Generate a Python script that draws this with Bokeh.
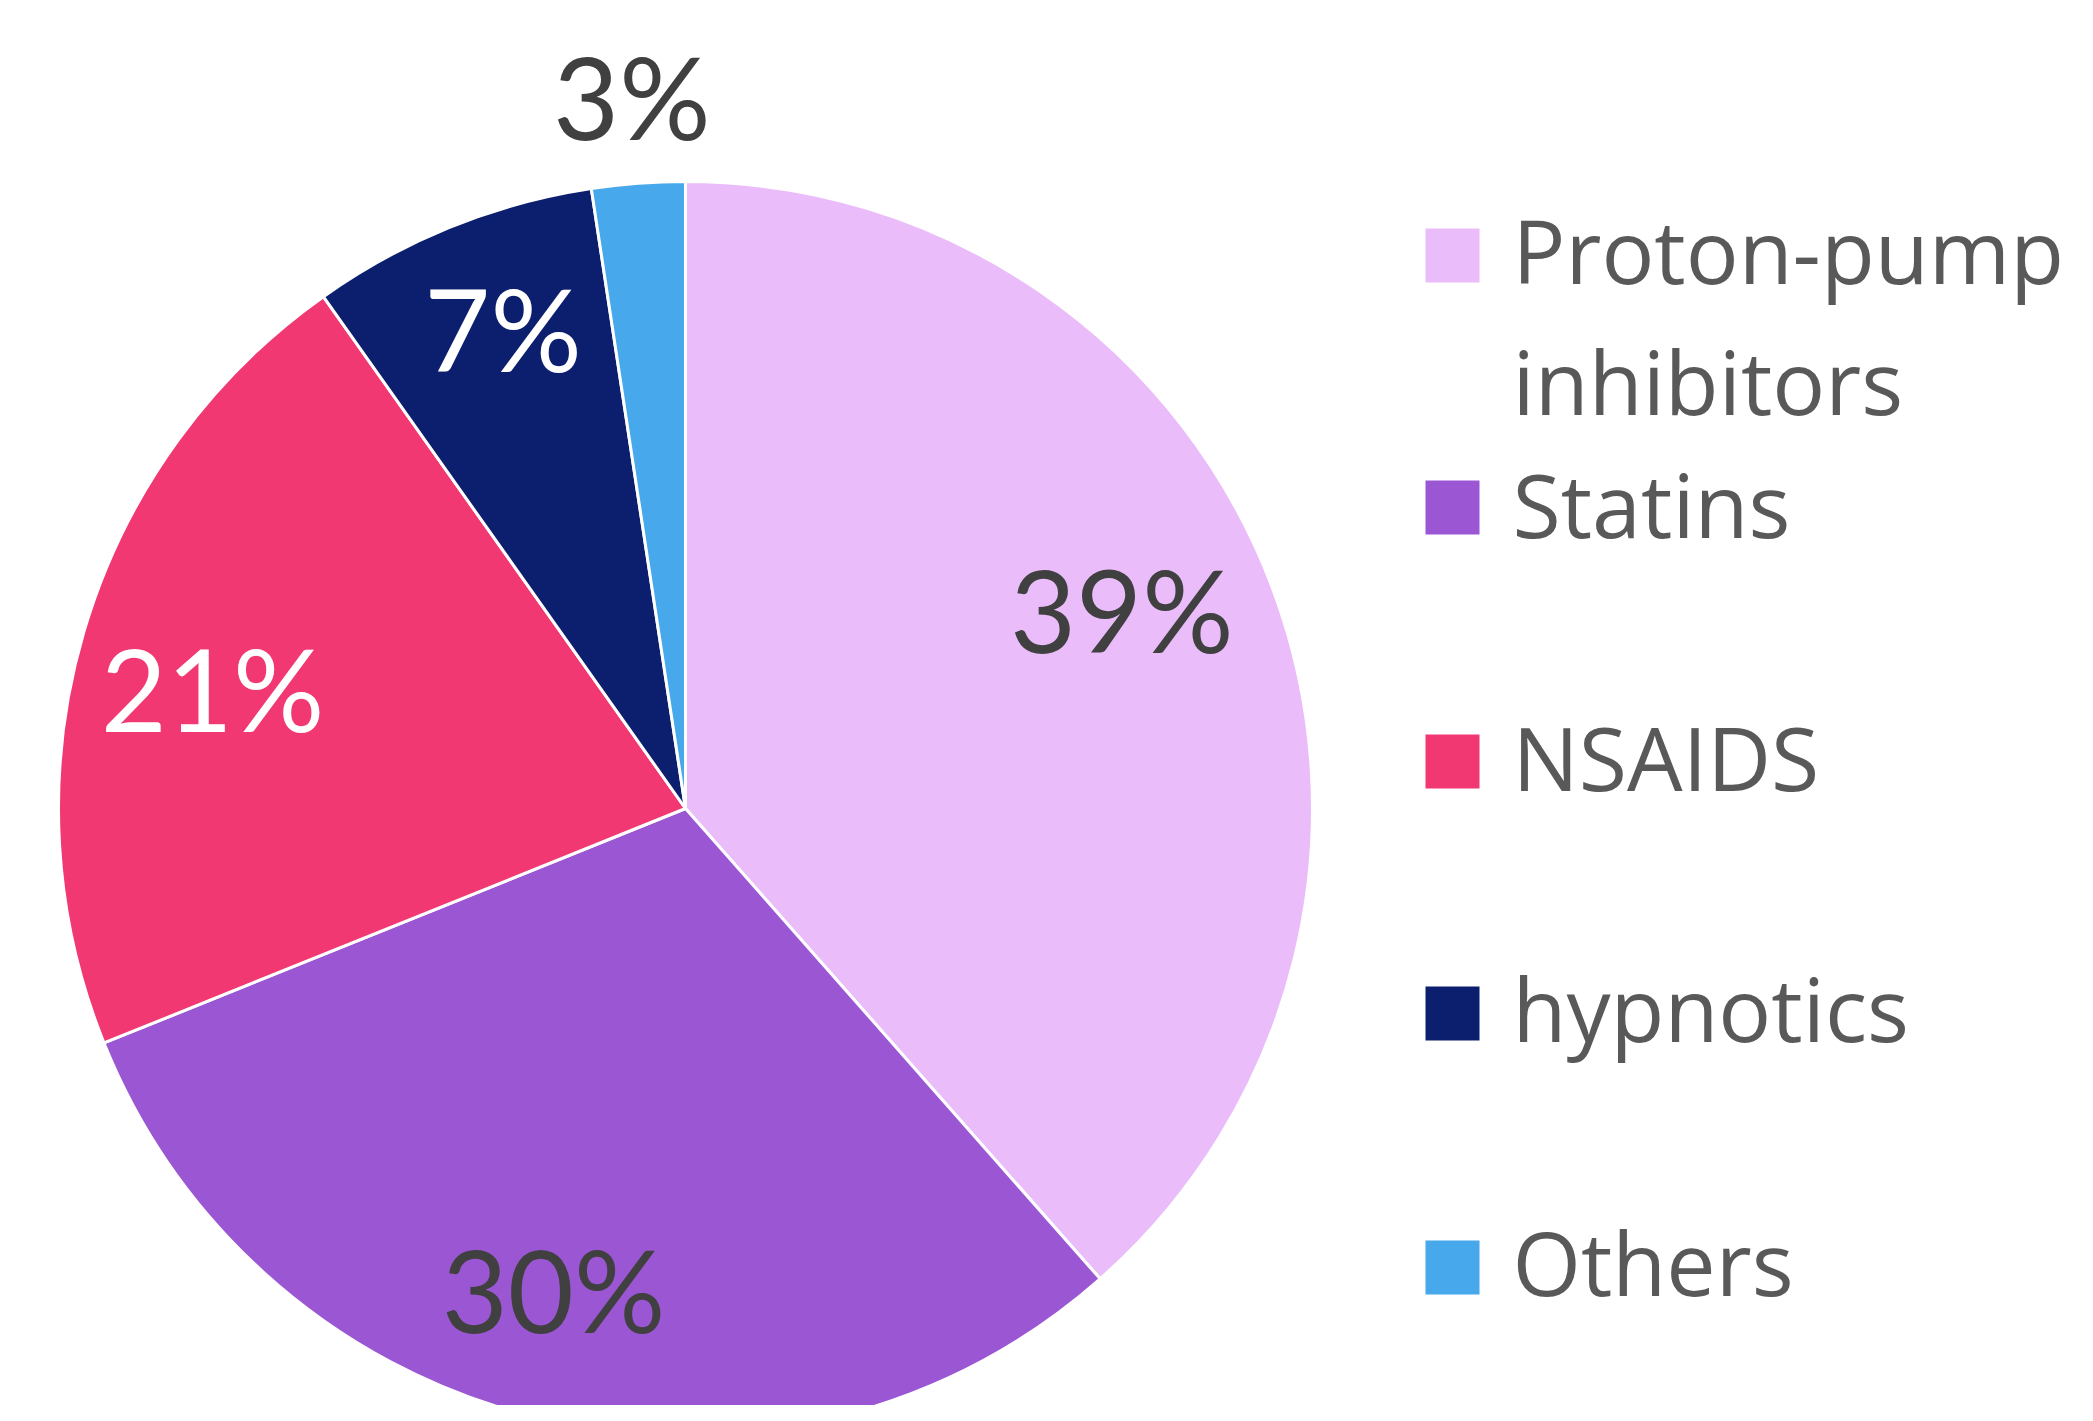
import math
from bokeh.plotting import figure
from bokeh.models import ColumnDataSource, Range1d
from bokeh.core.properties import value
from bokeh.embed import file_html
from bokeh.resources import INLINE

# ---- data ----
categories = ["Proton-pump inhibitors", "Statins", "NSAIDS", "hypnotics", "Others"]
shares = [38.5, 30.4, 21.3, 7.4, 2.4]
pct_labels = ["39%", "30%", "21%", "7%", "3%"]
colors = ["#EABDFA", "#9B57D3", "#F23872", "#0B1F6E", "#47A8EC"]
label_colors = ["#404040", "#404040", "#FFFFFF", "#FFFFFF", "#404040"]

# ---- layout (screen pixel space, y measured upward) ----
W, H = 2093, 1421
FW, FH = 2077, 1405
CX, CY_S, R = 685, 808, 627
CY = H - CY_S

p = figure(width=FW, height=FH, output_backend="svg", toolbar_location=None,
           x_range=Range1d(0, FW), y_range=Range1d(H - FH, H),
           min_border=0)
p.axis.visible = False
p.grid.visible = False
p.outline_line_color = None
p.background_fill_color = "white"
p.border_fill_color = "white"

total = sum(shares)
starts, ends, mids = [], [], []
cum = 0.0
for v in shares:
    f0 = cum / total
    cum += v
    f1 = cum / total
    starts.append(math.pi / 2 - 2 * math.pi * f0)
    ends.append(math.pi / 2 - 2 * math.pi * f1)
    mids.append(360 * (f0 + f1) / 2)  # clockwise degrees from 12 o'clock

src = ColumnDataSource(dict(start=starts, end=ends, color=colors))
p.wedge(x=CX, y=CY, radius=R, start_angle="start", end_angle="end",
        direction="clock", fill_color="color", line_color="white",
        line_width=3, source=src)

# data labels
radial = [0.764, 0.797, 0.778, 0.817, 1.137]
ang_adj = [-3.7, 2.0, -2.2, 1.1, 0.0]
LFS = 114
shift = -42 + 0.385 * LFS
lx, ly = [], []
for m, f, a in zip(mids, radial, ang_adj):
    t = math.radians(m + a)
    lx.append(CX + f * R * math.sin(t))
    ly.append(CY + f * R * math.cos(t) + shift)
lsrc = ColumnDataSource(dict(x=lx, y=ly, t=pct_labels, c=label_colors))
p.text(x="x", y="y", text="t", text_color="c", source=lsrc,
       text_font=value("Lato"), text_font_size=f"{LFS}px",
       text_align="center", text_baseline="alphabetic")

# legend (drawn manually)
sq_centers = [255, 507, 761, 1013, 1267]
SQ = 54
p.rect(x=[1452] * len(categories), y=[H - s for s in sq_centers],
       width=SQ, height=SQ, fill_color=colors, line_color=None)
leg_lines = [("Proton-pump", 283), ("inhibitors", 414), ("Statins", 537),
             ("NSAIDS", 790), ("hypnotics", 1041), ("Others", 1295)]
GFS = 88
p.text(x=[1512] * len(leg_lines), y=[H - b + 0.385 * GFS for _, b in leg_lines],
       text=[t for t, _ in leg_lines], text_color="#595959",
       text_font=value("Open Sans"), text_font_size=f"{GFS}px",
       text_align="left", text_baseline="alphabetic")

open("out.html", "w").write(file_html(p, INLINE))
